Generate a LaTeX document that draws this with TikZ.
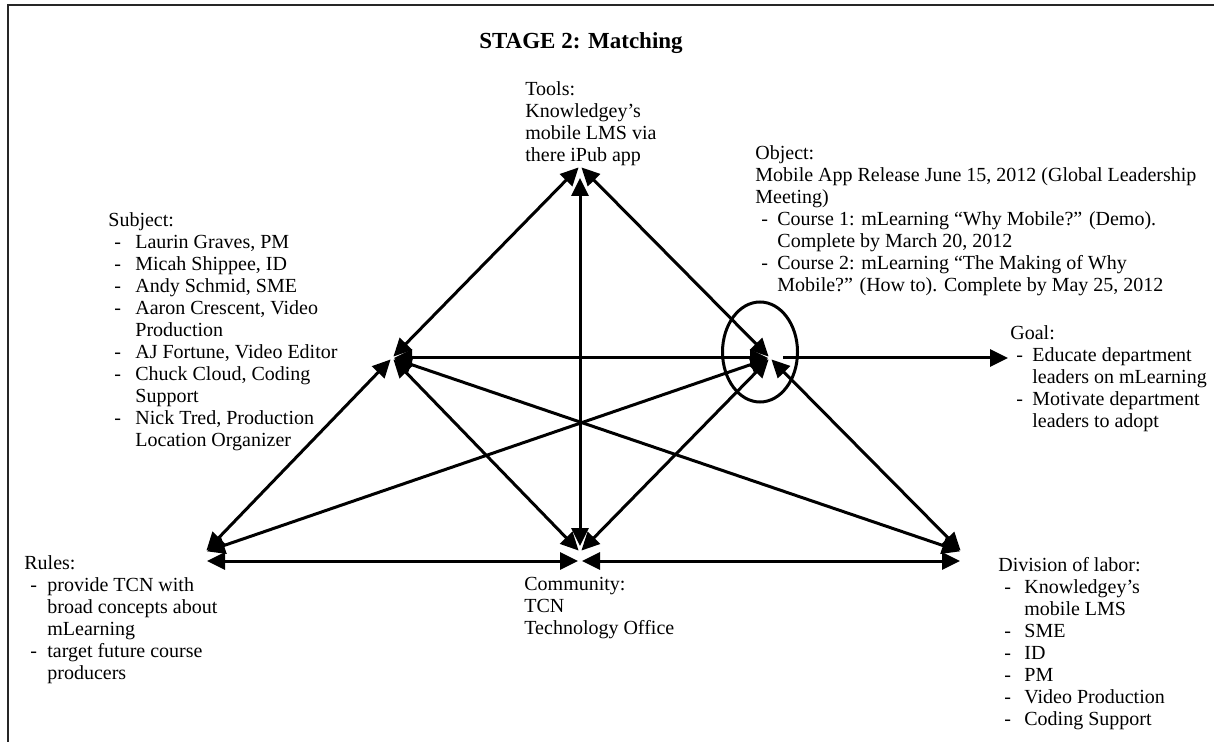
\documentclass[tikz,border=0pt]{standalone}
\usepackage{fontspec}
\setmainfont{Liberation Serif}
\usetikzlibrary{arrows.meta,shapes.geometric}

% list items with a hanging dash
\newcommand{\itm}[1][11pt]{\makebox[#1][l]{\hspace{3pt}-}}
\newcommand{\cnt}[1][11pt]{\hspace*{#1}}

\begin{document}
\begin{tikzpicture}[x=0.5pt, y=-0.5pt, >={Triangle[length=9pt,width=8.5pt]},
  font=\fontsize{10}{11}\selectfont,
  link/.style={<->, line width=1.5pt, shorten <=1pt, shorten >=1pt},
  txt/.style={anchor=north west, inner sep=0pt, align=left},
  ring/.style={draw, ellipse, line width=1.5pt, inner sep=0pt, minimum width=37.5pt, minimum height=50pt}]
\useasboundingbox (0,0) rectangle (1214,742);
\draw[line width=1.2pt, black!85] (1214,5) -- (8,5) -- (8,742);
% ================= title =================
\node[font=\fontsize{11.5}{13}\selectfont\bfseries] (title) at (581,43) {STAGE 2: Matching};
% ================= activity system corners =================
\coordinate (tools) at (580,166);
\coordinate (subj)  at (392,358);
\coordinate (obj)   at (770,358);
\coordinate (rules) at (205,552);
\coordinate (comm)  at (580,552);
\coordinate (div)   at (962,552);
\coordinate (goal)  at (1008,358);
\node[ring] (focus) at (760,352) {};
% ================= connectors =================
\foreach \a/\b in {tools/subj, tools/obj, subj/obj, subj/rules, subj/comm, subj/div, obj/rules, obj/comm, obj/div}
  \draw[link] (\a) -- (\b);
\draw[link, shorten <=6pt, shorten >=3pt] (tools) -- (comm);
\draw[link] ([yshift=-4.5pt]rules) -- ([yshift=-4.5pt]comm);
\draw[link] ([yshift=-4.5pt]comm) -- ([yshift=-4.5pt]div);
\draw[->, line width=1.5pt, shorten <=6.5pt] (obj) -- (goal);
% ================= labels =================
\node[txt] (toolsTxt) at (525,81) {Tools:\\Knowledgey’s\\mobile LMS via\\there iPub app};
\node[txt] (objTxt) at (755,145) {Object:\\Mobile App Release June 15, 2012 (Global Leadership\\Meeting)\\
  \itm Course 1: mLearning “Why Mobile?” (Demo).\\\cnt Complete by March 20, 2012\\
  \itm Course 2: mLearning “The Making of Why\\\cnt Mobile?” (How to). Complete by May 25, 2012};
\node[txt] (subjTxt) at (108,212) {Subject:\\
  \itm[13.5pt]Laurin Graves, PM\\\itm[13.5pt]Micah Shippee, ID\\\itm[13.5pt]Andy Schmid, SME\\
  \itm[13.5pt]Aaron Crescent, Video\\\cnt[13.5pt]Production\\\itm[13.5pt]AJ Fortune, Video Editor\\
  \itm[13.5pt]Chuck Cloud, Coding\\\cnt[13.5pt]Support\\\itm[13.5pt]Nick Tred, Production\\\cnt[13.5pt]Location Organizer};
\node[txt] (goalTxt) at (1010,325) {Goal:\\\itm Educate department\\\cnt leaders on mLearning\\
  \itm Motivate department\\\cnt leaders to adopt};
\node[txt] (rulesTxt) at (24,555) {Rules:\\\itm[11.5pt]provide TCN with\\\cnt[11.5pt]broad concepts about\\
  \cnt[11.5pt]mLearning\\\itm[11.5pt]target future course\\\cnt[11.5pt]producers};
\node[txt] (commTxt) at (524,577) {Community:\\TCN\\Technology Office};
\node[txt] (divTxt) at (998,557) {Division of labor:\\\itm[13pt]Knowledgey’s\\\cnt[13pt]mobile LMS\\
  \itm[13pt]SME\\\itm[13pt]ID\\\itm[13pt]PM\\\itm[13pt]Video Production\\\itm[13pt]Coding Support};
\end{tikzpicture}
\end{document}
